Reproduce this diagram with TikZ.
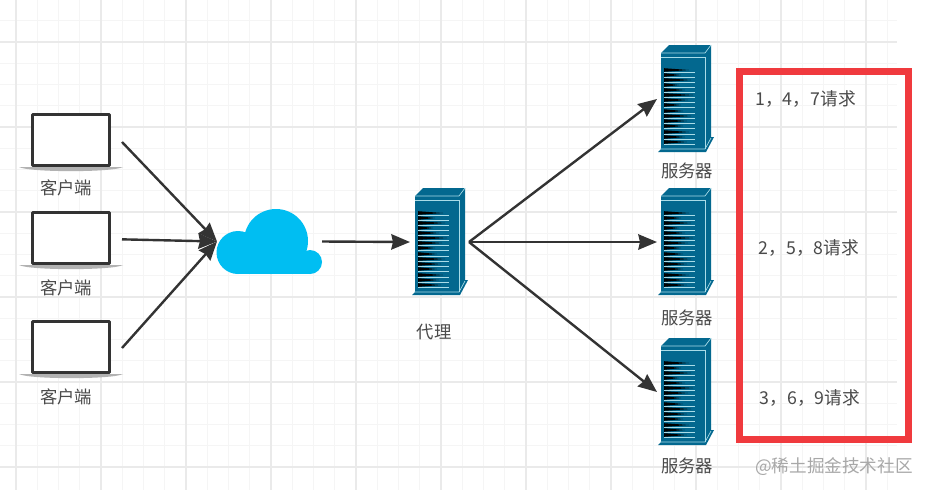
\documentclass[tikz,border=0pt]{standalone}
\usepackage{fontspec}
\setmainfont{Noto Sans CJK SC}
\usetikzlibrary{arrows.meta}
\definecolor{gridmajor}{HTML}{EAEAEA}
\definecolor{gridminor}{HTML}{F5F5F5}
\definecolor{servblue}{HTML}{03688F}
\definecolor{servlight}{HTML}{A9DCE8}
\definecolor{cloudblue}{HTML}{00BEF2}
\definecolor{boxred}{HTML}{F03A3E}
\definecolor{inkdark}{HTML}{333333}
\definecolor{labelgrey}{HTML}{4A4A4A}
\definecolor{marktext}{HTML}{A8A8A8}
\tikzset{
  laptopnode/.style={minimum width=80*0.75pt,minimum height=54*0.75pt,inner sep=0pt,outer xsep=8.25pt,outer ysep=0pt},
  servernode/.style={minimum width=58*0.75pt,minimum height=108*0.75pt,inner sep=0pt,outer sep=0pt},
  cloudnode/.style={minimum width=105*0.75pt,minimum height=65*0.75pt,inner sep=0pt,outer sep=0pt},
  lbl/.style={text=labelgrey,font=\fontsize{13pt}{15pt}\selectfont,inner sep=0pt},
  reqlbl/.style={text=labelgrey,font=\fontsize{13.3pt}{15pt}\selectfont,inner sep=0pt},
  conn/.style={draw=inkdark,line width=1.8pt,-{Stealth[length=14pt,width=11.5pt,inset=1.2pt]}},
  pics/laptoppic/.style={code={
    \fill[gray!60] (-52,27) -- (52,27) .. controls (42,32.5) and (-42,32.5) .. (-52,27) -- cycle;
    \draw[draw=inkdark,fill=white,line width=2.2pt,rounded corners=0.6pt] (-38.5,-25.5) rectangle (38.5,25.5);
  }},
  pics/serverpic/.style={code={
    \begin{scope}[shift={(-25,-54)}]
    \fill[servblue] (0,8) -- (8,0) -- (50,0) -- (50,92) -- (53,92) -- (45,107) -- (-3,107) -- (0,104) -- cycle;
    \draw[servlight,line width=0.6pt] (0,12) -- (44,12);
    \draw[servlight,line width=0.6pt] (44,12) -- (44,104);
    \draw[servlight,line width=0.5pt] (0,8) -- (44,8) -- (50,0);
    \draw[servlight,line width=0.5pt] (-1,104) -- (44,104) -- (50,93);
    \foreach \yy/\ll [count=\i] in {25/28,30/20,35/30,40/18,45/24,50/32,55/27,60/20,66/22,71/30,76/26,81/22,87/28,92/24,97/26}{
      \draw[servlight,line width=0.4pt] (3,\yy+2.7) -- (34,\yy+2.7);
      \fill[black] (3,\yy-1.8) -- (3,\yy+1.8) -- (\ll,\yy) -- cycle;
    }
    \end{scope}
  }},
}
\begin{document}
\begin{tikzpicture}[x=0.75pt,y=-0.75pt]
\useasboundingbox (0,0) rectangle (930,494);
\fill[white] (0,0) rectangle (930,494);
% grid
\foreach \k in {0,1,...,41}{
  \draw[gridminor,line width=0.6pt] ({16+21.25*\k},0) -- ({16+21.25*\k},490);
}
\foreach \k in {0,1,...,22}{
  \draw[gridminor,line width=0.6pt] (0,{21.25*\k-0.5}) -- (897,{21.25*\k-0.5});
}
\foreach \k in {0,1,...,10}{
  \draw[gridmajor,line width=0.8pt] ({16+85*\k},0) -- ({16+85*\k},490);
}
\foreach \k in {0,1,...,5}{
  \draw[gridmajor,line width=0.8pt] (0,{42+85*\k}) -- (897,{42+85*\k});
}
% clients
\node[laptopnode] (c1) at (71,140) {};
\node[laptopnode] (c2) at (71,238) {};
\node[laptopnode] (c3) at (71,347) {};
\pic at (c1.center) {laptoppic};
\pic at (c2.center) {laptoppic};
\pic at (c3.center) {laptoppic};
\node[lbl] (lc1) at (66,188) {客户端};
\node[lbl] (lc2) at (66,288) {客户端};
\node[lbl] (lc3) at (66,397) {客户端};
% cloud
\node[cloudnode] (cloud) at (269.5,241.5) {};
\fill[cloudblue] (276,241) circle (32);
\fill[cloudblue] (238,252.5) circle (21.5);
\fill[cloudblue] (310,262) circle (12);
\fill[cloudblue] (238,245) rectangle (304,274);
\fill[cloudblue] (304,252) rectangle (310,274);
% proxy and servers
\node[servernode,minimum width=59*0.75pt] (p) at (439.5,242) {};
\pic at (440,242) {serverpic};
\node[servernode] (s1) at (686,99) {};
\node[servernode] (s2) at (686,242) {};
\node[servernode] (s3) at (686,392) {};
\pic at (s1.center) {serverpic};
\pic at (s2.center) {serverpic};
\pic at (s3.center) {serverpic};
\node[lbl] (lp) at (434,332) {代理};
\node[lbl] (ls1) at (687,171) {服务器};
\node[lbl] (ls2) at (687,318) {服务器};
\node[lbl] (ls3) at (687,466) {服务器};
% connectors
\draw[conn] ([yshift=-1.5pt]c1.east) -- (cloud.west);
\draw[conn] ([yshift=-1pt]c2.east) -- (cloud.west);
\draw[conn] ([yshift=-0.75pt]c3.east) -- (cloud.west);
\draw[conn] (cloud.east) -- (p.west);
\draw[conn] (p.east) -- (s1.west);
\draw[conn] (p.east) -- (s2.west);
\draw[conn] (p.east) -- (s3.west);
% red box
\node[draw=boxred,line width=4.9pt,minimum width=168.5*0.75pt,minimum height=368.5*0.75pt,inner sep=0pt,outer sep=0pt] (box) at (824,255.5) {};
\node[reqlbl] (r1) at (805.5,99) {1，4，7请求};
\node[reqlbl] (r2) at (809,248) {2，5，8请求};
\node[reqlbl] (r3) at (810,398) {3，6，9请求};
\node[text=marktext,font=\fontsize{13.2pt}{15pt}\selectfont,inner sep=0pt] (wm) at (834,467) {@稀土掘金技术社区};
\end{tikzpicture}
\end{document}
